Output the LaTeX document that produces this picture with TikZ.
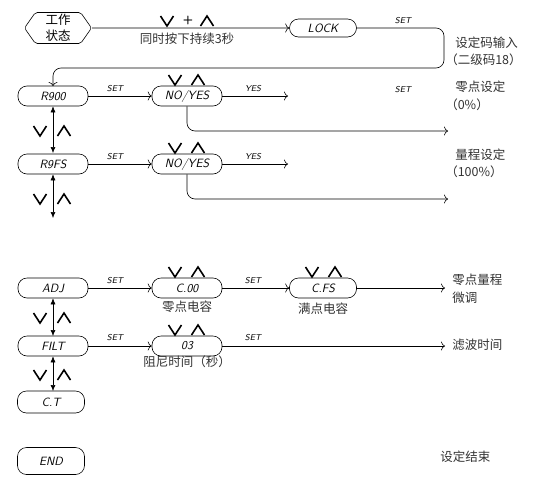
\documentclass[tikz,border=0pt]{standalone}
\usepackage{fontspec}
\newfontfamily\cjk{Noto Sans CJK SC}
\usetikzlibrary{arrows.meta,shapes.symbols}
\begin{document}
\begin{tikzpicture}[x=1pt,y=-1pt,line width=0.6pt,
  disp/.style={draw, rounded corners=9pt, minimum width=70pt, minimum height=20pt, inner sep=0pt, font=\fontsize{12}{12}\selectfont\sffamily\itshape\addfontfeature{LetterSpace=12}},
  tag/.style={font=\fontsize{8.5}{9}\selectfont\sffamily\itshape\addfontfeature{LetterSpace=10}, inner sep=0pt},
  note/.style={font=\fontsize{12.5}{16}\selectfont\cjk, text=black!80, inner sep=0pt},
  flow/.style={-{To[length=4pt,width=9pt]}},
  updown/.style={{Latex[length=6pt,width=5pt]}-{Latex[length=6pt,width=5pt]}},
  keydn/.pic={\draw[line width=1.6pt] (-6.5,-5) -- (0,5) -- (6.5,-5);},
  keyup/.pic={\draw[line width=1.6pt] (-6.5,5) -- (0,-5) -- (6.5,5);}
]
\useasboundingbox (0,0) rectangle (538,477);
% start and lock
\node [shape=signal, signal to=west and east, signal pointer angle=110, draw, rounded corners=2pt, minimum width=67pt, minimum height=31pt, inner sep=0pt, align=center, note, text=black] (work) at (58,28) {工作\\状态};
\node [disp, minimum width=67pt, minimum height=18pt] (lock) at (323,28) {LOCK};
\pic at (167,21) {keydn};
\node [font=\sffamily\bfseries\large] (plus) at (188,20) {+};
\pic at (207,21) {keyup};
\node [note] (hold) at (187,39) {同时按下持续3秒};
\draw [flow] (work) -- (lock);
\node [tag] (set0) at (403,21) {SET};
\coordinate (ret) at (444,68);
\draw [flow, rounded corners=8pt] (lock.east) -| (ret) -| (53,86);
\node [note, anchor=west] (code) at (455,43) {设定码输入};
\node [note, anchor=west] (code2) at (445,60) {（二级码18）};
% zero
\node [disp] (a900) at (53,96) {R900};
\node [disp] (yn1) at (187,96) {NO/YES};
\pic at (175,80) {keydn};
\pic at (198,80) {keyup};
\node [tag] (set1) at (115,89) {SET};
\node [tag] (yes1) at (253,89) {YES};
\draw [flow] (a900) -- (yn1);
\coordinate (y1e) at (288,96);
\draw [flow] (yn1) -- (y1e);
\coordinate (y1n) at (448,131);
\draw [flow, rounded corners=8pt] (yn1.south) |- (y1n);
\node [tag] (set2) at (403,90) {SET};
\node [note, anchor=west] (zero) at (455,87) {零点设定};
\node [note, anchor=west] (zero2) at (445,105) {（0\%）};
\draw [updown] (a900) -- (53,153);
\pic at (40,131) {keydn};
\pic at (64,131) {keyup};
% span
\node [disp] (a9fs) at (53,164) {R9FS};
\node [disp] (yn2) at (187,164) {NO/YES};
\pic at (175,148) {keydn};
\pic at (198,148) {keyup};
\node [tag] (set3) at (115,157) {SET};
\node [tag] (yes2) at (253,157) {YES};
\draw [flow] (a9fs) -- (yn2);
\coordinate (y2e) at (288,164);
\draw [flow] (yn2) -- (y2e);
\coordinate (y2n) at (448,199);
\draw [flow, rounded corners=8pt] (yn2.south) |- (y2n);
\node [note, anchor=west] (span) at (455,155) {量程设定};
\node [note, anchor=west] (span2) at (445,172) {（100\%）};
\coordinate (down) at (53,218);
\draw [updown] (a9fs) -- (down);
\pic at (40,199) {keydn};
\pic at (64,199) {keyup};
% adjust
\node [disp] (adj) at (53,288) {ADJ};
\node [disp] (c00) at (187,288) {C.00};
\node [disp, minimum width=67pt] (cfs) at (323,288) {C.FS};
\pic at (175,272) {keydn};
\pic at (198,272) {keyup};
\pic at (312,272) {keydn};
\pic at (335,272) {keyup};
\node [tag] (set4) at (115,281) {SET};
\node [tag] (set5) at (253,281) {SET};
\draw [flow] (adj) -- (c00);
\draw [flow] (c00) -- (cfs);
\coordinate (cfe) at (445,288);
\draw [flow] (cfs) -- (cfe);
\node [note] (zc) at (187,307) {零点电容};
\node [note] (fc) at (323,309) {满点电容};
\node [note, anchor=west] (fine) at (452,280) {零点量程};
\node [note, anchor=west] (fine2) at (452,298) {微调};
\draw [updown] (adj) -- (53,336);
\pic at (40,318) {keydn};
\pic at (64,318) {keyup};
% filter
\node [disp] (filt) at (53,346) {FILT};
\node [disp] (t03) at (187,346) {03};
\pic at (175,330) {keydn};
\pic at (198,330) {keyup};
\node [tag] (set6) at (115,338) {SET};
\node [tag] (set7) at (253,338) {SET};
\draw [flow] (filt) -- (t03);
\coordinate (fte) at (445,346);
\draw [flow] (t03) -- (fte);
\node [note] (damp) at (187,362) {阻尼时间（秒）};
\node [note, anchor=west] (fil) at (452,345) {滤波时间};
\draw [updown] (filt) -- (53,391);
\pic at (40,375) {keydn};
\pic at (64,375) {keyup};
% end
\node [disp, minimum width=67pt, minimum height=22pt] (ct) at (51,402) {C.T};
\node [disp, minimum width=67pt, minimum height=27pt] (endn) at (51,461) {END};
\node [note, anchor=west] (fin) at (440,457) {设定结束};
\end{tikzpicture}
\end{document}
